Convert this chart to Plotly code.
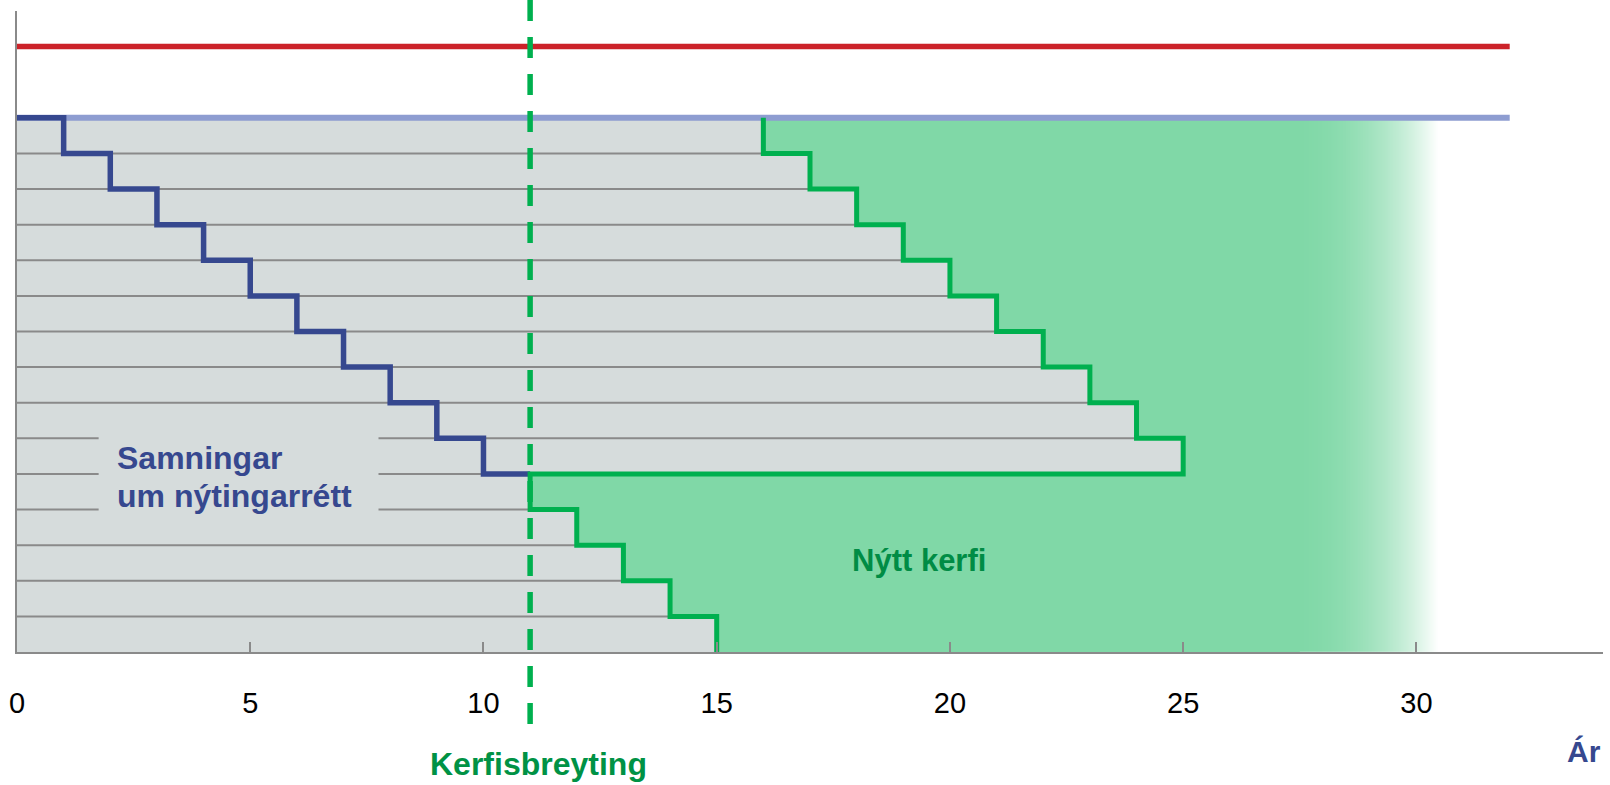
import plotly.graph_objects as go

# ---------------- data ----------------
rows = list(range(15))                       # contract rows, bottom = 0
contract_end = [15, 14, 13, 12, 11, 25, 24, 23, 22, 21, 20, 19, 18, 17, 16]   # end year after change
old_end = [15, 14, 13, 12, 11, 10, 9, 8, 7, 6, 5, 4, 3, 2, 1]                 # end year under old contracts
change_year = 11
top_level = 15
red_level = 17
line_end_x = 32
fade_x = [27.5, 27.8, 28.1, 28.4, 28.7, 29.0, 29.3, 29.6, 29.9, 30.2, 30.45]
fade_alpha = [1.0, 0.98, 0.95, 0.9, 0.83, 0.74, 0.63, 0.5, 0.35, 0.17, 0.0]
xticks = [0, 5, 10, 15, 20, 25, 30]

GREY = "#d6dcdc"
ROWLINE = "#8a8a8a"
NAVY = "#36488f"
GREEN = "#00b04f"
GREEN_FILL = "#80d8a7"
DARKGREEN = "#009245"
FONT = "Liberation Sans, Arial, sans-serif"

fig = go.Figure()

# grey region (contracts)
gx, gy = [0], [0]
for r in rows:
    gx += [contract_end[r], contract_end[r]]
    gy += [r, r + 1]
gx += [0]
gy += [top_level]
fig.add_trace(go.Scatter(x=gx, y=gy, fill="toself", fillcolor=GREY, mode="lines",
                         line=dict(width=0), hoverinfo="skip", showlegend=False))

# green region (new system)
sx, sy = [], []
for r in rows:
    sx += [contract_end[r], contract_end[r]]
    sy += [r, r + 1]
fx = sx + [fade_x[0], fade_x[0]]
fy = sy + [top_level, 0]
fig.add_trace(go.Scatter(x=fx, y=fy, fill="toself", fillcolor=GREEN_FILL, mode="lines",
                         line=dict(width=0), hoverinfo="skip", showlegend=False))

# fading edge of green area (one row, y given as cell edges)
fig.add_trace(go.Heatmap(x=fade_x, y=[0, top_level], z=[fade_alpha],
                         zmin=0, zmax=1, zsmooth="best", showscale=False, hoverinfo="skip",
                         colorscale=[[0, "rgba(128,216,167,0)"], [1, "rgba(128,216,167,1)"]]))

# row separator lines
lx, ly = [], []
for k in range(1, top_level):
    lx += [0, min(contract_end[k - 1], contract_end[k]), None]
    ly += [k, k, None]
fig.add_trace(go.Scatter(x=lx, y=ly, mode="lines", line=dict(color=ROWLINE, width=2),
                         hoverinfo="skip", showlegend=False))

# label background box (hides row lines behind the text)
fig.add_trace(go.Scatter(x=[1.75, 7.75, 7.75, 1.75, 1.75], y=[3.55, 3.55, 6.5, 6.5, 3.55],
                         fill="toself", fillcolor=GREY, mode="lines", line=dict(width=0),
                         hoverinfo="skip", showlegend=False))

# light blue top line and red line
fig.add_trace(go.Scatter(x=[0, line_end_x], y=[top_level, top_level], mode="lines",
                         line=dict(color="#8e9dd1", width=6), hoverinfo="skip", showlegend=False))
fig.add_trace(go.Scatter(x=[0, line_end_x], y=[red_level, red_level], mode="lines",
                         line=dict(color="#cc2229", width=5.5), hoverinfo="skip", showlegend=False))

# old contracts staircase (blue)
bx, by = [0], [top_level]
last_r = 0
for r in reversed(rows):
    if old_end[r] < change_year:
        bx += [old_end[r], old_end[r]]
        by += [r + 1, r]
        last_r = r
bx += [change_year]
by += [last_r]
fig.add_trace(go.Scatter(x=bx, y=by, mode="lines", line=dict(color=NAVY, width=5.5),
                         hoverinfo="skip", showlegend=False))

# new system staircase (green)
fig.add_trace(go.Scatter(x=sx, y=sy, mode="lines", line=dict(color=GREEN, width=5),
                         hoverinfo="skip", showlegend=False))

shapes = [
    dict(type="line", xref="x", yref="paper", x0=change_year, x1=change_year,
         y0=1.017, y1=-0.12, line=dict(color=GREEN, width=5.5, dash="21px,16px"),
         layer="above"),
]

annotations = [
    dict(x=2.1, y=5.45, xref="x", yref="y", text="Samningar", showarrow=False,
         xanchor="left", yanchor="middle",
         font=dict(family=FONT, size=32, color=NAVY, weight="bold")),
    dict(x=2.1, y=4.38, xref="x", yref="y", text="um nýtingarrétt", showarrow=False,
         xanchor="left", yanchor="middle",
         font=dict(family=FONT, size=32, color=NAVY, weight="bold")),
    dict(x=17.85, y=2.56, xref="x", yref="y", text="Nýtt kerfi", showarrow=False,
         xanchor="left", yanchor="middle",
         font=dict(family=FONT, size=31, color="#008c45", weight="bold")),
    dict(x=11.17, y=-0.174, xref="x", yref="paper", text="Kerfisbreyting", showarrow=False,
         xanchor="center", yanchor="middle",
         font=dict(family=FONT, size=32, color=DARKGREEN, weight="bold")),
    dict(x=1.0, y=-0.155, xref="paper", yref="paper", text="Ár", showarrow=False,
         xanchor="right", yanchor="middle",
         font=dict(family=FONT, size=30, color=NAVY, weight="bold")),
]

fig.update_layout(
    width=1610, height=785,
    margin=dict(l=17, r=7, t=11, b=133, autoexpand=False),
    paper_bgcolor="white", plot_bgcolor="white",
    showlegend=False,
    shapes=shapes, annotations=annotations,
    xaxis=dict(range=[0, 34], showline=True, linecolor=ROWLINE, linewidth=2,
               ticks="inside", ticklen=10, tickwidth=2, tickcolor=ROWLINE,
               tickmode="array", tickvals=xticks, ticktext=[str(v) for v in xticks],
               tickfont=dict(family=FONT, size=29, color="black"), automargin=False,
               ticklabelstandoff=24, showgrid=False, zeroline=False, fixedrange=True),
    yaxis=dict(range=[0, 18], showline=True, linecolor=ROWLINE, linewidth=2, automargin=False,
               ticks="", showticklabels=False, showgrid=False, zeroline=False, fixedrange=True),
)

fig.write_html("out.html", config={"displayModeBar": False},
               post_script="document.body.style.margin='0';document.body.style.overflow='hidden';")
